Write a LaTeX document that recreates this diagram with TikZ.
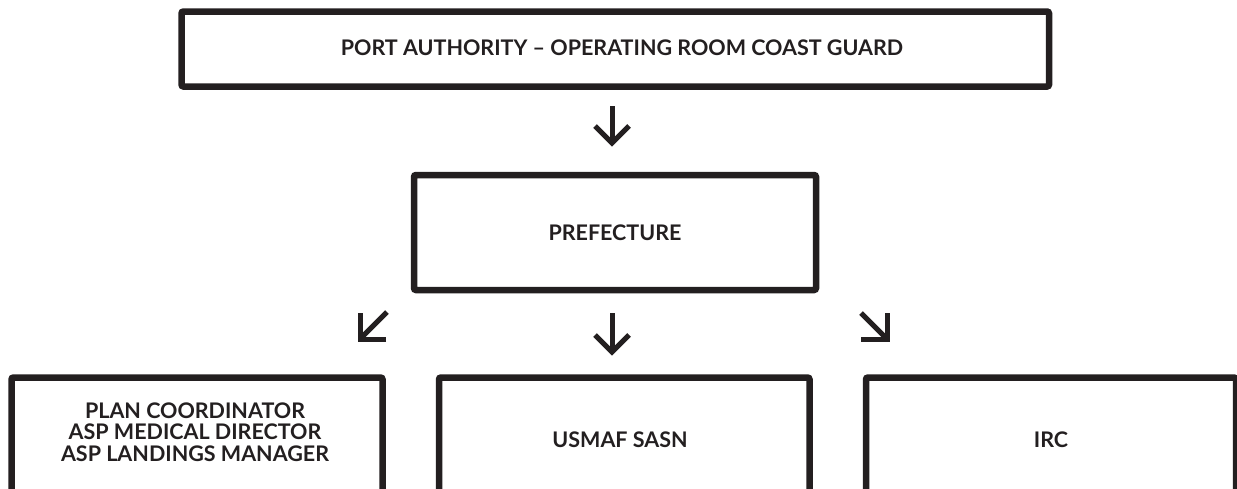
\documentclass[tikz,border=0pt]{standalone}
\usepackage{fontspec}
\setmainfont{Lato}
\definecolor{ink}{HTML}{231F20}
\tikzset{
  box/.style={draw=ink, line width=6.5pt, rounded corners=2pt, inner sep=0pt, outer sep=0pt, anchor=north west},
  lbl/.style={text=ink, font=\fontsize{21.5}{21.5}\selectfont\bfseries, align=center, inner sep=0pt},
  arr/.style={draw=ink, line width=5pt, line join=miter}
}
\begin{document}
\begin{tikzpicture}[x=1pt,y=-1pt]
\useasboundingbox (0,0) rectangle (1237,488);
\clip (0,0) rectangle (1237,488);
% boxes
\node[box, minimum width=867.5pt, minimum height=75pt] (top) at (181.5,11.5) {};
\node[box, minimum width=402pt, minimum height=115pt] (pref) at (414,175) {};
\node[box, minimum width=371pt, minimum height=142.5pt] (left) at (11.5,377.5) {};
\node[box, minimum width=370.5pt, minimum height=142.5pt] (mid) at (439,377.5) {};
\node[box, minimum width=370pt, minimum height=142.5pt] (right) at (866,377.5) {};
% texts
\node[lbl] (toptext) at (622,48) {PORT AUTHORITY – OPERATING ROOM COAST GUARD};
\node[lbl] (preftext) at (615,233) {PREFECTURE};
\node[lbl] (lefttext) at (195,432) {PLAN COORDINATOR\\ASP MEDICAL DIRECTOR\\ASP LANDINGS MANAGER};
\node[lbl] (midtext) at (620,440) {USMAF SASN};
\node[lbl] (righttext) at (1051,440) {IRC};
% arrows
\coordinate (a1s) at (612,106); \coordinate (a1t) at (612,143);
\coordinate (a1l) at (595,126); \coordinate (a1r) at (629,126);
\draw[arr] (a1s) -- (a1t);
\draw[arr] (a1l) -- (a1t) -- (a1r);
\coordinate (a2s) at (612,313); \coordinate (a2t) at (612,352);
\coordinate (a2l) at (595,335); \coordinate (a2r) at (629,335);
\draw[arr] (a2s) -- (a2t);
\draw[arr] (a2l) -- (a2t) -- (a2r);
\coordinate (a3s) at (387,312); \coordinate (a3t) at (360,339);
\coordinate (a3h) at (386,339); \coordinate (a3v) at (360,313);
\draw[arr] (a3s) -- (a3t);
\draw[arr] (a3h) -- (a3t) -- (a3v);
\coordinate (a4s) at (861,313); \coordinate (a4t) at (887,339);
\coordinate (a4h) at (861,339); \coordinate (a4v) at (887,313);
\draw[arr] (a4s) -- (a4t);
\draw[arr] (a4h) -- (a4t) -- (a4v);
\end{tikzpicture}
\end{document}
